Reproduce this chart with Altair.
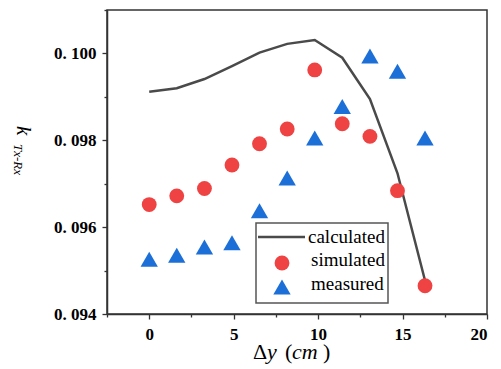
import altair as alt
import pandas as pd

# ---- data ----
dy = [0, 1.63, 3.27, 4.9, 6.53, 8.17, 9.8, 11.43, 13.07, 14.7, 16.33]
calculated = [0.09912, 0.09920, 0.09941, 0.09971, 0.10002, 0.10022, 0.10031,
              0.09990, 0.09895, 0.09724, 0.09477]
simulated = [0.09652, 0.09672, 0.09689, 0.09743, 0.09792, 0.09826, 0.09962,
             0.09838, 0.09809, 0.09684, 0.09465]
measured = [0.09526, 0.09535, 0.09554, 0.09564, 0.09638, 0.09713, 0.09805,
            0.09878, 0.09994, 0.09959, 0.09805]

x_ticks = [-2.5, 0, 2.5, 5, 7.5, 10, 12.5, 15, 17.5, 20]
y_ticks = [0.094, 0.095, 0.096, 0.097, 0.098, 0.099, 0.100, 0.101]
legend_labels = ["calculated", "simulated", "measured"]

df = pd.DataFrame({"dy": dy, "calc": calculated, "sim": simulated, "meas": measured})

AX = "#333333"
LINE = "#4a4a4a"
RED = "#ef4242"
BLUE = "#1d6fd8"
SERIF = "Liberation Serif"

xscale = alt.Scale(domain=[-2.5, 20], nice=False, zero=False)
yscale = alt.Scale(domain=[0.094, 0.101], nice=False, zero=False)

xaxis = alt.Axis(
    values=x_ticks, title=None, grid=False,
    labelExpr="datum.value % 5 === 0 ? format(datum.value, 'd') : ''",
    tickSize={"condition": {"test": "datum.value % 5 === 0", "value": 5}, "value": 3},
    labelPadding=7,
)
yaxis = alt.Axis(
    values=y_ticks, title=None, grid=False,
    labelExpr="round(datum.value*1000) % 2 === 0 && datum.value < 0.1005 ? replace(format(datum.value, '.3f'), '.', '. ') : ''",
    tickSize={"condition": {"test": "round(datum.value*1000) % 2 === 0", "value": 5}, "value": 3},
    labelPadding=6,
)

X = alt.X("dy:Q", scale=xscale, axis=xaxis)

line = alt.Chart(df).mark_line(color=LINE, strokeWidth=2.5).encode(
    x=X, y=alt.Y("calc:Q", scale=yscale, axis=yaxis))
circles = alt.Chart(df).mark_point(shape="circle", filled=True, size=220,
                                   color=RED, opacity=1).encode(
    x=X, y=alt.Y("sim:Q", scale=yscale, axis=yaxis))
tris = alt.Chart(df).mark_point(shape="triangle-up", filled=True, size=300,
                                color=BLUE, opacity=1).encode(
    x=X, y=alt.Y("meas:Q", scale=yscale, axis=yaxis))

one = alt.Data(values=[{"a": 1}])

# legend (drawn by hand)
leg_box = alt.Chart(one).mark_rect(fill="white", stroke="#555555", strokeWidth=1.5).encode(
    x=alt.value(149), x2=alt.value(281), y=alt.value(213), y2=alt.value(293))
leg_line = alt.Chart(one).mark_rule(color=LINE, strokeWidth=2.5).encode(
    x=alt.value(151), x2=alt.value(198), y=alt.value(227))
leg_circ = alt.Chart(one).mark_point(shape="circle", filled=True, size=220,
                                     color=RED, opacity=1).encode(
    x=alt.value(175), y=alt.value(253))
leg_tri = alt.Chart(one).mark_point(shape="triangle-up", filled=True, size=300,
                                    color=BLUE, opacity=1).encode(
    x=alt.value(175), y=alt.value(277))

def txt(s, x, y, size=19, style="normal", angle=0, align="left"):
    return alt.Chart(one).mark_text(
        text=s, align=align, baseline="alphabetic", font=SERIF, fontSize=size,
        fontStyle=style, angle=angle, color="black").encode(
        x=alt.value(x), y=alt.value(y))

leg_t1 = txt(legend_labels[0], 201, 233)
leg_t2 = txt(legend_labels[1], 204, 256)
leg_t3 = txt(legend_labels[2], 204, 280)

# x title: Δy (cm)
xt = [
    txt("Δ", 146, 349, size=22),
    txt("y", 160, 349, size=22, style="italic"),
    txt("(", 178, 349, size=22),
    txt("cm", 185, 349, size=22, style="italic"),
    txt(")", 216, 349, size=22),
]
# y title: k_{Tx-Rx}, rotated clockwise
yt = [
    txt("k", -90, 116, size=21, style="italic", angle=90),
    txt("Tx-Rx", -93, 134, size=13, style="italic", angle=90),
]

chart = alt.layer(line, circles, tris, leg_box, leg_line, leg_circ, leg_tri,
                  leg_t1, leg_t2, leg_t3, *xt, *yt).properties(
    width=380, height=304,
    autosize=alt.AutoSizeParams(type="none"),
    padding={"left": 99, "top": 2, "right": 5, "bottom": 50},
).configure_view(stroke=AX, strokeWidth=1.5).configure_axis(
    domainColor=AX, domainWidth=1.5, tickColor=AX, tickWidth=1.3,
    labelFont=SERIF, labelFontWeight="bold", labelFontSize=17, labelColor="black",
)

chart.save("out.html", embed_options={"renderer": "svg", "actions": False})
